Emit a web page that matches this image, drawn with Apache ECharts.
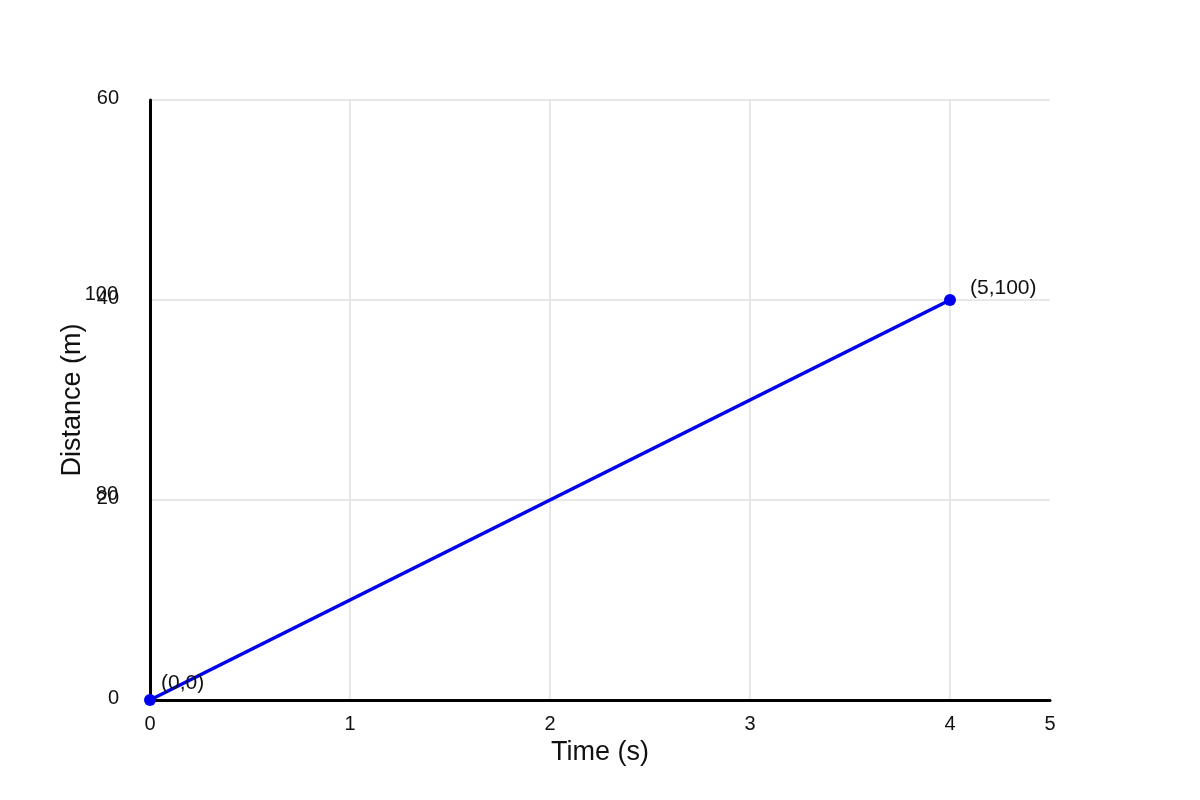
<!DOCTYPE html>
<html>
<head>
<meta charset="utf-8">
<title>Distance vs Time</title>
<script src="https://cdn.jsdelivr.net/npm/echarts@6/dist/echarts.min.js"></script>
<style>
  html, body { margin: 0; padding: 0; background: #fff; }
  #chart { width: 1200px; height: 800px; }
</style>
</head>
<body>
<div id="chart"></div>
<script>
// data
var timeValues = [0, 4];
var distanceValues = [0, 40];
var pointLabels = ['(0,0)', '(5,100)'];
// x axis ends half a step after 4, its end label reads 5
var timeAxisMax = 4.5;
// second set of y labels drawn on top of the first
var extraDistanceTicks = [80, 100];

var font = '"Liberation Sans", Arial, sans-serif';
var textColor = '#111';

var myChart = echarts.init(document.getElementById('chart'));

var seriesData = [];
for (var i = 0; i < timeValues.length; i++) {
    seriesData.push({
        value: [timeValues[i], distanceValues[i]],
        label: {
            formatter: pointLabels[i],
            offset: i === 0 ? [0, -17] : [9, -12]
        }
    });
}

var option = {
    backgroundColor: '#fff',
    animation: false,
    grid: { left: 150, right: 150, top: 100, bottom: 100, containLabel: false },
    xAxis: {
        type: 'value',
        min: 0,
        max: timeAxisMax,
        interval: 1,
        name: 'Time (s)',
        nameLocation: 'middle',
        nameGap: 37,
        nameTextStyle: { fontSize: 27, color: textColor, fontFamily: font },
        axisLine: { show: true, onZero: false, lineStyle: { color: '#000', width: 3 } },
        axisTick: { show: false },
        axisLabel: {
            fontSize: 20, color: textColor, fontFamily: font, margin: 14,
            showMaxLabel: true,
            formatter: function (v) { return String(Math.round(v)); }
        },
        splitLine: { show: true, showMaxLine: false, lineStyle: { color: '#e0e0e0', width: 1.5 } }
    },
    yAxis: [{
        type: 'value',
        min: 0,
        max: 60,
        interval: 20,
        name: 'Distance (m)',
        nameLocation: 'middle',
        nameGap: 64,
        nameTextStyle: { fontSize: 27, color: textColor, fontFamily: font },
        axisLine: { show: true, lineStyle: { color: '#000', width: 3 } },
        axisTick: { show: false },
        axisLabel: {
            fontSize: 20, color: textColor, fontFamily: font, margin: 31,
            verticalAlign: 'bottom', lineHeight: 4
        },
        splitLine: { show: true, lineStyle: { color: '#e0e0e0', width: 1.5 } }
    }, {
        type: 'value',
        position: 'left',
        min: 60,
        max: 120,
        interval: 20,
        axisLine: { show: false },
        axisTick: { show: false },
        splitLine: { show: false },
        axisLabel: {
            fontSize: 20, color: textColor, fontFamily: font, margin: 32,
            verticalAlign: 'bottom', lineHeight: 12,
            customValues: extraDistanceTicks,
            formatter: function (v) {
                return extraDistanceTicks.indexOf(v) >= 0 ? String(v) : '';
            }
        }
    }],
    series: [{
        type: 'line',
        data: seriesData,
        yAxisIndex: 0,
        symbol: 'circle',
        symbolSize: 12,
        lineStyle: { color: '#0000ee', width: 3.5 },
        itemStyle: { color: '#0000ee' },
        label: {
            show: true,
            position: 'right',
            distance: 5,
            fontSize: 21,
            color: textColor,
            fontFamily: font
        }
    }]
};

myChart.setOption(option);
window.addEventListener('resize', function () {
    myChart.resize();
});
</script>
</body>
</html>
